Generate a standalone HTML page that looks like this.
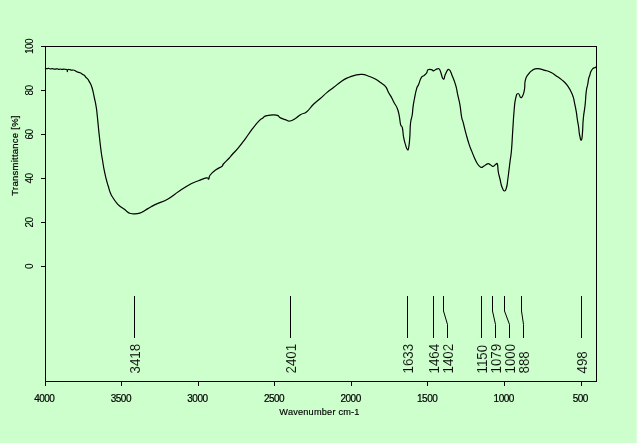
<!DOCTYPE html>
<html><head><meta charset="utf-8"><style>
html,body{margin:0;padding:0;width:640px;height:443px;overflow:hidden;background:#ccffcc;}
svg{display:block;position:absolute;left:0;top:0;will-change:transform}
.w{position:absolute;left:636px;top:0;width:4px;height:443px;background:linear-gradient(to right,#dcffdc 0,#dcffdc 1px,#f2fff2 1px,#f2fff2 2px,#fff 2px)}
</style></head><body>
<svg width="640" height="443" viewBox="0 0 640 443">
<rect x="0" y="0" width="640" height="443" fill="#ccffcc"/>
<g stroke="#000" stroke-width="1" fill="none" shape-rendering="crispEdges">
<rect x="45.5" y="46.5" width="551" height="335"/>
<line x1="45.50" y1="381" x2="45.50" y2="386"/><line x1="121.50" y1="381" x2="121.50" y2="386"/><line x1="198.50" y1="381" x2="198.50" y2="386"/><line x1="274.50" y1="381" x2="274.50" y2="386"/><line x1="351.50" y1="381" x2="351.50" y2="386"/><line x1="427.50" y1="381" x2="427.50" y2="386"/><line x1="504.50" y1="381" x2="504.50" y2="386"/><line x1="581.50" y1="381" x2="581.50" y2="386"/>
<line x1="41" y1="46.5" x2="46" y2="46.5"/><line x1="41" y1="90.5" x2="46" y2="90.5"/><line x1="41" y1="134.5" x2="46" y2="134.5"/><line x1="41" y1="178.5" x2="46" y2="178.5"/><line x1="41" y1="222.5" x2="46" y2="222.5"/><line x1="41" y1="266.5" x2="46" y2="266.5"/>
</g>
<g stroke="#000" stroke-width="1.2" fill="none" stroke-linejoin="round">
<path d="M45.00,68.30 C45.27,68.38 45.33,68.54 46.00,68.60 C46.67,68.66 46.67,68.56 47.50,68.53 C48.33,68.50 48.25,68.34 49.10,68.47 C49.95,68.60 49.85,68.99 50.70,69.02 C51.55,69.05 51.45,68.57 52.30,68.59 C53.15,68.61 53.05,68.98 53.90,69.10 C54.75,69.22 54.65,69.11 55.50,69.04 C56.35,68.97 56.25,68.77 57.10,68.85 C57.95,68.93 57.85,69.30 58.70,69.34 C59.55,69.38 59.45,68.97 60.30,69.00 C61.15,69.03 61.05,69.39 61.90,69.44 C62.75,69.49 62.65,69.24 63.50,69.20 C64.35,69.16 64.19,69.15 65.10,69.28 C66.01,69.41 66.29,69.08 66.90,69.70 C67.51,70.32 67.13,71.63 67.40,71.60 C67.67,71.57 67.23,70.12 67.90,69.60 C68.57,69.08 68.94,69.50 69.90,69.65 C70.86,69.80 70.65,70.08 71.50,70.18 C72.35,70.28 72.25,69.91 73.10,70.01 C73.95,70.11 73.85,70.19 74.70,70.56 C75.55,70.93 75.45,70.96 76.30,71.38 C77.15,71.80 77.05,71.82 77.90,72.15 C78.75,72.48 78.65,72.31 79.50,72.60 C80.35,72.89 80.25,72.68 81.10,73.22 C81.95,73.76 81.85,74.08 82.70,74.61 C83.55,75.14 83.45,74.47 84.30,75.20 C85.15,75.93 85.05,76.38 85.90,77.36 C86.75,78.34 86.67,77.87 87.50,78.87 C88.33,79.87 87.83,78.88 89.00,81.10 C90.17,83.32 90.46,82.69 91.90,87.20 C93.34,91.71 93.25,92.72 94.40,98.00 C95.55,103.28 95.43,102.20 96.20,107.00 C96.97,111.80 96.53,108.80 97.30,116.00 C98.07,123.20 98.06,124.40 99.10,134.00 C100.14,143.60 100.29,145.07 101.20,152.00 C102.11,158.93 101.73,155.28 102.50,160.00 C103.27,164.72 103.11,164.63 104.10,169.70 C105.09,174.77 105.11,174.65 106.20,179.00 C107.29,183.35 107.08,182.27 108.20,186.00 C109.32,189.73 109.12,189.85 110.40,193.00 C111.68,196.15 111.29,195.08 113.00,197.80 C114.71,200.52 114.96,200.96 116.80,203.20 C118.64,205.44 117.87,204.57 119.90,206.20 C121.93,207.83 122.13,207.59 124.40,209.30 C126.67,211.01 126.11,211.40 128.40,212.60 C130.69,213.80 129.99,213.64 133.00,213.80 C136.01,213.96 136.53,214.11 139.70,213.20 C142.87,212.29 141.97,212.05 144.90,210.40 C147.83,208.75 147.39,208.81 150.70,207.00 C154.01,205.19 152.79,205.68 157.30,203.60 C161.81,201.52 161.71,202.53 167.60,199.20 C173.49,195.87 173.13,195.21 179.40,191.10 C185.67,186.99 186.01,186.55 191.10,183.80 C196.19,181.05 194.39,182.37 198.50,180.80 C202.61,179.23 203.78,178.35 206.50,177.90 C209.22,177.45 207.71,179.87 208.70,179.10 C209.69,178.33 208.25,177.48 210.20,175.00 C212.15,172.52 212.85,172.15 216.00,169.80 C219.15,167.45 220.03,167.75 222.00,166.20 C223.97,164.65 221.45,166.19 223.40,164.00 C225.35,161.81 227.06,160.40 229.30,158.00 C231.54,155.60 229.35,157.77 231.80,155.00 C234.25,152.23 234.90,151.92 238.50,147.60 C242.10,143.28 241.70,143.65 245.30,138.80 C248.90,133.95 248.40,134.09 252.00,129.40 C255.60,124.71 255.89,124.27 258.80,121.20 C261.71,118.13 260.71,119.39 262.90,117.90 C265.09,116.41 263.40,116.35 267.00,115.60 C270.60,114.85 272.80,114.49 276.40,115.10 C280.00,115.71 277.97,116.62 280.50,117.90 C283.03,119.18 283.37,119.07 285.90,119.90 C288.43,120.73 287.47,121.37 290.00,121.00 C292.53,120.63 292.52,120.23 295.40,118.50 C298.28,116.77 297.76,116.31 300.80,114.50 C303.84,112.69 303.41,114.45 306.80,111.70 C310.19,108.95 309.90,107.72 313.50,104.20 C317.10,100.68 316.67,101.65 320.30,98.50 C323.93,95.35 323.50,95.39 327.10,92.40 C330.70,89.41 330.20,90.10 333.80,87.30 C337.40,84.50 336.97,84.41 340.60,81.90 C344.23,79.39 343.64,79.66 347.40,77.90 C351.16,76.14 350.75,76.23 354.70,75.30 C358.65,74.37 358.47,74.16 362.20,74.40 C365.93,74.64 365.21,74.97 368.70,76.20 C372.19,77.43 372.05,77.24 375.30,79.00 C378.55,80.76 378.15,80.77 380.90,82.80 C383.65,84.83 383.60,84.09 385.60,86.60 C387.60,89.11 386.91,89.45 388.40,92.20 C389.89,94.95 389.71,94.15 391.20,96.90 C392.69,99.65 392.35,99.35 394.00,102.50 C395.65,105.65 395.99,105.07 397.40,108.70 C398.81,112.33 398.45,111.89 399.30,116.10 C400.15,120.31 399.77,121.33 400.60,124.50 C401.43,127.67 401.60,124.61 402.40,128.00 C403.20,131.39 402.77,132.75 403.60,137.20 C404.43,141.65 404.51,141.45 405.50,144.70 C406.49,147.95 406.45,148.65 407.30,149.40 C408.15,150.15 408.03,150.75 408.70,147.50 C409.37,144.25 409.32,143.60 409.80,137.20 C410.28,130.80 409.86,129.42 410.50,123.50 C411.14,117.58 411.53,119.29 412.20,115.00 C412.87,110.71 412.47,111.40 413.00,107.40 C413.53,103.40 413.27,104.88 414.20,100.00 C415.13,95.12 415.33,93.26 416.50,89.10 C417.67,84.94 417.32,87.47 418.60,84.40 C419.88,81.33 419.86,79.95 421.30,77.60 C422.74,75.25 422.56,76.85 424.00,75.60 C425.44,74.35 425.63,74.45 426.70,72.90 C427.77,71.35 426.56,70.63 428.00,69.80 C429.44,68.97 430.63,69.53 432.10,69.80 C433.57,70.07 432.06,71.07 433.50,70.80 C434.94,70.53 435.77,68.96 437.50,68.80 C439.23,68.64 438.48,67.48 440.00,70.20 C441.52,72.92 441.68,78.09 443.20,79.00 C444.72,79.91 444.15,76.13 445.70,73.60 C447.25,71.07 447.21,68.78 449.00,69.50 C450.79,70.22 450.59,71.98 452.40,76.30 C454.21,80.62 454.36,80.66 455.80,85.70 C457.24,90.74 456.71,90.13 457.80,95.20 C458.89,100.27 458.89,98.91 459.90,104.70 C460.91,110.49 460.75,112.23 461.60,116.90 C462.45,121.57 461.87,117.53 463.10,122.20 C464.33,126.87 464.57,128.43 466.20,134.40 C467.83,140.37 467.73,140.15 469.20,144.60 C470.67,149.05 470.29,147.55 471.70,151.10 C473.11,154.65 473.01,154.59 474.50,157.90 C475.99,161.21 475.65,161.02 477.30,163.50 C478.95,165.98 479.05,166.43 480.70,167.20 C482.35,167.97 481.69,167.31 483.50,166.40 C485.31,165.49 485.69,164.25 487.50,163.80 C489.31,163.35 488.81,164.01 490.30,164.70 C491.79,165.39 491.58,166.56 493.10,166.40 C494.62,166.24 494.83,164.61 496.00,164.10 C497.17,163.59 496.89,162.39 497.50,164.50 C498.11,166.61 497.63,168.13 498.30,172.00 C498.97,175.87 499.07,175.13 500.00,179.00 C500.93,182.87 500.63,183.30 501.80,186.50 C502.97,189.70 503.15,190.73 504.40,191.00 C505.65,191.27 505.59,190.57 506.50,187.50 C507.41,184.43 507.13,184.17 507.80,179.50 C508.47,174.83 508.39,174.93 509.00,170.00 C509.61,165.07 509.43,166.33 510.10,161.00 C510.77,155.67 510.81,157.97 511.50,150.00 C512.19,142.03 512.01,141.55 512.70,131.10 C513.39,120.65 513.33,119.47 514.10,110.80 C514.87,102.13 514.51,103.21 515.60,98.60 C516.69,93.99 516.68,93.77 518.20,93.50 C519.72,93.23 519.67,98.40 521.30,97.60 C522.93,96.80 523.23,95.11 524.30,90.50 C525.37,85.89 524.21,84.65 525.30,80.30 C526.39,75.95 526.51,76.89 528.40,74.20 C530.29,71.51 529.97,71.67 532.40,70.20 C534.83,68.73 534.14,68.67 537.50,68.70 C540.86,68.73 541.35,69.29 545.00,70.30 C548.65,71.31 548.27,71.03 551.20,72.50 C554.13,73.97 553.33,73.96 556.00,75.80 C558.67,77.64 558.13,76.79 561.20,79.40 C564.27,82.01 564.49,81.44 567.50,85.60 C570.51,89.76 570.63,90.39 572.50,95.00 C574.37,99.61 573.49,98.39 574.50,102.90 C575.51,107.41 575.53,107.34 576.30,111.90 C577.07,116.46 576.79,115.97 577.40,120.00 C578.01,124.03 578.01,123.00 578.60,127.00 C579.19,131.00 578.85,131.51 579.60,135.00 C580.35,138.49 580.63,140.85 581.40,140.10 C582.17,139.35 581.99,137.91 582.50,132.20 C583.01,126.49 582.61,125.95 583.30,118.70 C583.99,111.45 584.30,112.39 585.10,105.00 C585.90,97.61 585.61,96.47 586.30,91.00 C586.99,85.53 587.06,87.86 587.70,84.50 C588.34,81.14 588.14,80.85 588.70,78.40 C589.26,75.95 589.24,77.06 589.80,75.30 C590.36,73.54 590.00,73.56 590.80,71.80 C591.60,70.04 591.73,69.79 592.80,68.70 C593.87,67.61 593.84,68.15 594.80,67.70 C595.76,67.25 595.97,67.19 596.40,67.00"/>
</g>
<g stroke="#000" stroke-width="1" fill="none">
<line x1="134.5" y1="296" x2="134.5" y2="338"/><line x1="290.5" y1="296" x2="290.5" y2="338"/><line x1="407.5" y1="296" x2="407.5" y2="338"/><line x1="433.5" y1="296" x2="433.5" y2="338"/><polyline points="443.5,296 443.5,311 447.5,324.5 447.5,338"/><line x1="481.5" y1="296" x2="481.5" y2="338"/><polyline points="492.5,296 492.5,311 495.5,324.5 495.5,338"/><polyline points="504.5,296 504.5,311 509.5,324.5 509.5,338"/><polyline points="521.5,296 521.5,311 523.5,324.5 523.5,338"/><line x1="581.5" y1="296" x2="581.5" y2="338"/>
</g>
<g font-family="Liberation Sans, sans-serif" font-size="10" letter-spacing="-0.5" fill="#000" stroke="#000" stroke-width="0.08">
<text transform="translate(32.7,46.5) rotate(-90)" text-anchor="middle">100</text><text transform="translate(32.7,90.5) rotate(-90)" text-anchor="middle">80</text><text transform="translate(32.7,134.5) rotate(-90)" text-anchor="middle">60</text><text transform="translate(32.7,178.5) rotate(-90)" text-anchor="middle">40</text><text transform="translate(32.7,222.5) rotate(-90)" text-anchor="middle">20</text><text transform="translate(32.7,266.5) rotate(-90)" text-anchor="middle">0</text>
</g>
<g font-family="Liberation Sans, sans-serif" font-size="10" letter-spacing="-0.5" fill="#000" stroke="#000" stroke-width="0.2">
<text x="44.30" y="402" text-anchor="middle">4000</text><text x="120.87" y="402" text-anchor="middle">3500</text><text x="197.44" y="402" text-anchor="middle">3000</text><text x="274.01" y="402" text-anchor="middle">2500</text><text x="350.59" y="402" text-anchor="middle">2000</text><text x="427.16" y="402" text-anchor="middle">1500</text><text x="503.73" y="402" text-anchor="middle">1000</text><text x="580.30" y="402" text-anchor="middle">500</text>
</g>
<g font-family="Liberation Sans, sans-serif" fill="#000" stroke="#000" stroke-width="0.2">
<text x="319.5" y="415.4" text-anchor="middle" font-size="9.2" letter-spacing="0.2" stroke-width="0.15">Wavenumber cm-1</text>
<text transform="translate(18,155.5) rotate(-90)" text-anchor="middle" font-size="9.5" letter-spacing="0.25">Transmittance [%]</text>
</g>
<g font-family="Liberation Sans, sans-serif" font-size="14" fill="#000" stroke="#ccffcc" stroke-width="0.12">
<text transform="translate(140.1,373.5) rotate(-90) scale(0.95,1.03)">3418</text><text transform="translate(296.1,373.5) rotate(-90) scale(0.95,1.03)">2401</text><text transform="translate(413.1,373.5) rotate(-90) scale(0.95,1.03)">1633</text><text transform="translate(439.1,373.5) rotate(-90) scale(0.95,1.03)">1464</text><text transform="translate(453.1,373.5) rotate(-90) scale(0.95,1.03)">1402</text><text transform="translate(487.1,373.5) rotate(-90) scale(0.95,1.03)">1150</text><text transform="translate(501.1,373.5) rotate(-90) scale(0.95,1.03)">1079</text><text transform="translate(515.1,373.5) rotate(-90) scale(0.95,1.03)">1000</text><text transform="translate(529.1,373.5) rotate(-90) scale(0.95,1.03)">888</text><text transform="translate(587.1,373.5) rotate(-90) scale(0.95,1.03)">498</text>
</g>
</svg>
<div class="w"></div>
</body></html>
